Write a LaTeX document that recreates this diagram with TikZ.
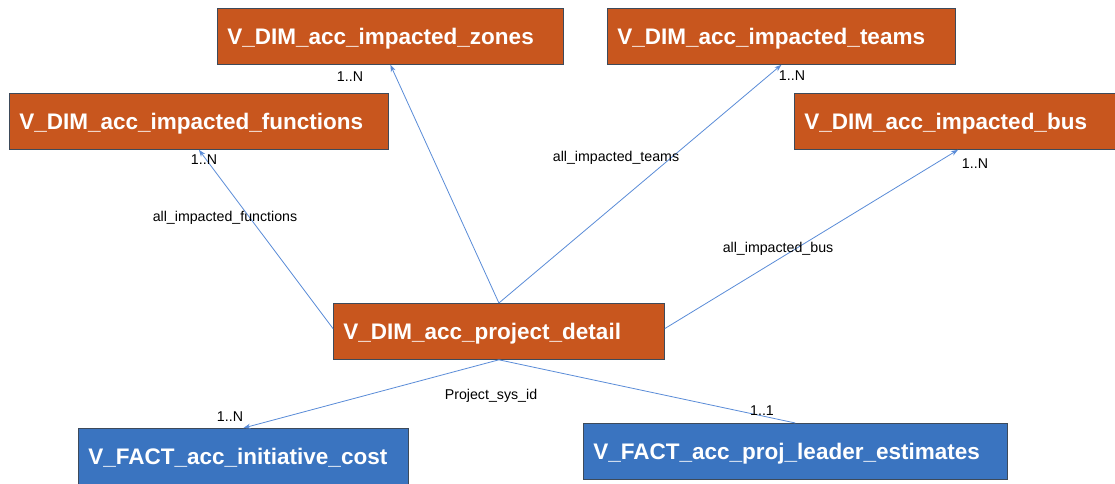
\documentclass[tikz,border=0pt]{standalone}
\usepackage{fontspec}
\setmainfont{Liberation Sans}
\usetikzlibrary{arrows.meta,calc}
\definecolor{dimorange}{HTML}{C8561E}
\definecolor{factblue}{HTML}{3A74C0}
\definecolor{boxborder}{HTML}{3D4A5A}
\definecolor{linkblue}{HTML}{5A8CD8}
\begin{document}
\begin{tikzpicture}[x=1pt,y=-1pt,
  entity/.style={draw=boxborder,line width=0.8pt,anchor=north west,inner xsep=10pt,inner ysep=0pt,
     minimum height=56pt,text height=16pt,text depth=0pt,align=left,text=white,font=\fontsize{22.5}{24}\selectfont\bfseries},
  dimbox/.style={entity,fill=dimorange},
  factbox/.style={entity,fill=factblue},
  link/.style={draw=linkblue,line width=0.8pt},
  arrowlink/.style={link,-{Stealth[length=7pt,width=5pt]}},
  lbl/.style={font=\fontsize{14.2}{16}\selectfont,text=black,inner sep=0pt}]
\useasboundingbox (0,0) rectangle (1115,483);
\fill[white] (0,0) rectangle (1115,483);
% boxes
\node[dimbox,text width=326pt] (zones) at (217,8) {V\_DIM\_acc\_impacted\_zones};
\node[dimbox,text width=328pt] (teams) at (607,8) {V\_DIM\_acc\_impacted\_teams};
\node[dimbox,text width=359pt] (funcs) at (9,93) {V\_DIM\_acc\_impacted\_functions};
\node[dimbox,text width=308pt] (bus) at (794,93) {V\_DIM\_acc\_impacted\_bus};
\node[dimbox,text width=311pt] (pd) at (333,303) {V\_DIM\_acc\_project\_detail};
\node[factbox,text width=310pt] (ic) at (78,428) {V\_FACT\_acc\_initiative\_cost};
\node[factbox,text width=404pt] (le) at (583,423) {V\_FACT\_acc\_proj\_leader\_estimates};
% connectors
\coordinate (pdw) at ($(pd.north west)!0.45!(pd.south west)$);
\coordinate (pde) at ($(pd.north east)!0.45!(pd.south east)$);
\coordinate (busin) at ($(bus.south west)+(164,0)$);
\draw[arrowlink] (pdw) -- (funcs.south);
\draw[arrowlink] (pd.north) -- (zones.south);
\draw[arrowlink] (pd.north) -- (teams.south);
\draw[arrowlink] (pde) -- (busin);
\draw[arrowlink] (pd.south) -- (ic.north);
\draw[link] (pd.south) -- (le.north);
% labels
\node[lbl] (m1) at (350,77) {1..N};
\node[lbl] (m2) at (204,160) {1..N};
\node[lbl] (l1) at (225,218) {all\_impacted\_functions};
\node[lbl] (m3) at (792,76) {1..N};
\node[lbl] (l2) at (616,158) {all\_impacted\_teams};
\node[lbl] (m4) at (975,164) {1..N};
\node[lbl] (l3) at (778,249) {all\_impacted\_bus};
\node[lbl] (l4) at (491,396) {Project\_sys\_id};
\node[lbl] (m5) at (230,417) {1..N};
\node[lbl] (m6) at (762,411) {1..1};
\end{tikzpicture}
\end{document}
